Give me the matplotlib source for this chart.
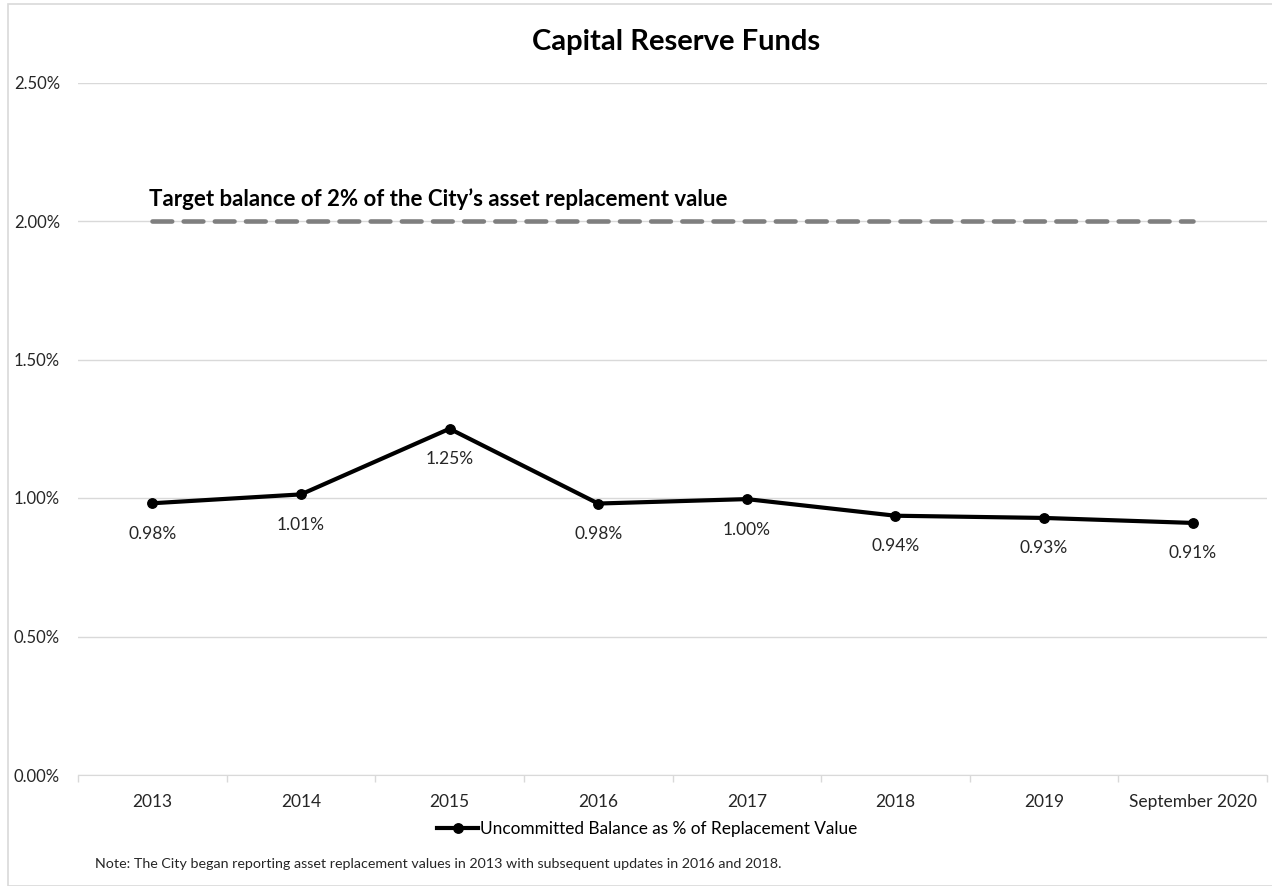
import matplotlib
matplotlib.use("Agg")
import matplotlib.pyplot as plt
from matplotlib.patches import Rectangle
from matplotlib.ticker import FuncFormatter, FixedLocator
import numpy as np

plt.rcParams['font.family'] = ['Lato', 'DejaVu Sans']

# data
years = ['2013', '2014', '2015', '2016', '2017', '2018', '2019', 'September 2020']
balance_pct = [0.981, 1.013, 1.250, 0.980, 0.996, 0.936, 0.928, 0.910]
target_pct = [2.0, 2.0, 2.0, 2.0, 2.0, 2.0, 2.0, 2.0]
yticks = [0.0, 0.5, 1.0, 1.5, 2.0, 2.5]

fig = plt.figure(figsize=(12.72, 8.86), dpi=100)
fig.patches.append(Rectangle((8/1272, 0), 2, 1 - 4/886, transform=fig.transFigure,
                             fill=False, edgecolor='#d9d9d9', linewidth=1.2))

ax = fig.add_axes([78/1272, 1 - 775/886, (1267-78)/1272, (775-82.5)/886])
x = np.arange(len(years))

ax.plot(x, target_pct, color='#7f7f7f', linewidth=3.3, dashes=(4.3, 2.5),
        dash_capstyle='round', zorder=3)
ax.plot(x, balance_pct, color='black', linewidth=3.0, marker='o', markersize=6.8,
        label='Uncommitted Balance as % of Replacement Value', zorder=4)

for xi, v in zip(x, balance_pct):
    ax.annotate('%.2f%%' % v, (xi, v), xytext=(0, -22), textcoords='offset points',
                ha='center', va='center', fontsize=12.5, color='#262626')

ax.text(-0.02, 2.0 + 0.08, 'Target balance of 2% of the City\u2019s asset replacement value',
        fontsize=16, fontweight='bold', ha='left', va='center', color='black')

ax.set_xlim(-0.5, len(years) - 0.5)
ax.set_ylim(0, 2.5)
ax.set_yticks(yticks)
ax.yaxis.set_major_formatter(FuncFormatter(lambda v, p: '%.2f%%' % v))
ax.grid(axis='y', color='#d9d9d9', linewidth=1)
ax.set_axisbelow(True)

ax.set_xticks(x)
ax.set_xticklabels(years)
ax.xaxis.set_minor_locator(FixedLocator(np.arange(-0.5, len(years), 1.0)))
ax.tick_params(axis='x', which='major', length=0, pad=14, labelsize=12.5, labelcolor='#262626')
ax.tick_params(axis='x', which='minor', length=5, color='#d9d9d9', width=1)
ax.tick_params(axis='y', length=0, pad=13, labelsize=12, labelcolor='#262626')

for s in ['top', 'right', 'left']:
    ax.spines[s].set_visible(False)
ax.spines['bottom'].set_color('#d9d9d9')

fig.text(676/1272, 1 - 42/886, 'Capital Reserve Funds', fontsize=21, fontweight='bold',
         ha='center', va='center')

leg = fig.legend(loc='center', bbox_to_anchor=(647/1272, 1 - 829/886), frameon=False,
                 fontsize=12.4, handlelength=2.4, handletextpad=0.1)

fig.text(95/1272, 1 - 864/886,
         'Note: The City began reporting asset replacement values in 2013 with subsequent updates in 2016 and 2018.',
         fontsize=10.3, ha='left', va='center', color='#262626')

fig.savefig('out.png', dpi=100)
